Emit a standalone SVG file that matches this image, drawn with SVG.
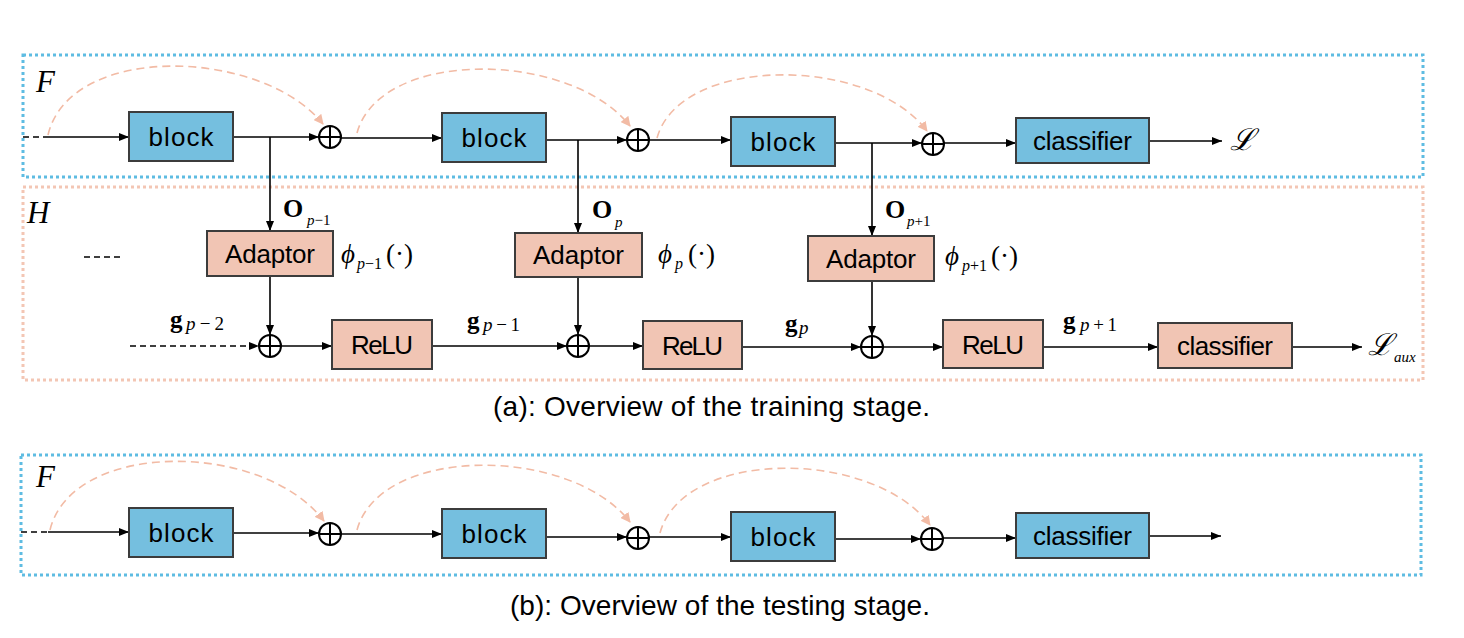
<svg xmlns="http://www.w3.org/2000/svg" width="1464" height="638" viewBox="0 0 1464 638">
<defs>
<style>
.frameF{fill:none;stroke:#5EBCE2;stroke-width:3;stroke-dasharray:3 3}
.frameH{fill:none;stroke:#F3C6B4;stroke-width:3;stroke-dasharray:3 3}
.blue{fill:#75BFDF;stroke:#3C3C3C;stroke-width:2}
.pink{fill:#F1C5B4;stroke:#3C3C3C;stroke-width:2}
.lbl{font-family:"Liberation Sans",Arial,sans-serif;font-size:26px;fill:#000;text-anchor:middle}
.cap{font-family:"Liberation Sans",Arial,sans-serif;font-size:28px;fill:#000}
.m{font-family:"Liberation Serif","DejaVu Serif",serif;fill:#000}
.it{font-style:italic}
.bd{font-weight:bold}
.ln{fill:none;stroke:#000;stroke-width:1.6}
.dash{fill:none;stroke:#000;stroke-width:1.6;stroke-dasharray:6 4}
.arc{fill:none;stroke:#F2BBA5;stroke-width:1.6;stroke-dasharray:8 5}
.op{fill:#fff;stroke:#000;stroke-width:2}
</style>
<marker id="ah" viewBox="0 0 10 8" refX="10" refY="4" markerWidth="10" markerHeight="8" markerUnits="userSpaceOnUse" orient="auto">
<path d="M0,0 L10,4 L0,8 z" fill="#000"/>
</marker>
<marker id="ahs" viewBox="0 0 10 10" refX="9" refY="5" markerWidth="10" markerHeight="10" markerUnits="userSpaceOnUse" orient="auto">
<path d="M0,0 L10,5 L0,10 z" fill="#F2BBA5"/>
</marker>
<g id="plus">
<circle cx="0" cy="0" r="11" class="op"/>
<path d="M-11,0 H11 M0,-11 V11" stroke="#000" stroke-width="2"/>
</g>
</defs>
<rect width="1464" height="638" fill="#fff"/>

<!-- frames -->
<g id="frames">
<rect class="frameF" x="23" y="55" width="1400" height="122"/>
<rect class="frameH" x="23" y="187" width="1400" height="193"/>
<rect class="frameF" x="21" y="455" width="1400" height="120"/>
<text class="m it" x="36" y="92" font-size="31">F</text>
<text class="m it" x="27" y="223" font-size="31">H</text>
<text class="m it" x="36" y="487" font-size="31">F</text>
</g>

<!-- connectors -->
<g id="connectors">
<!-- (a) main row -->
<line class="dash" x1="23" y1="137" x2="48" y2="137"/>
<line class="ln" x1="48" y1="137" x2="129" y2="137" marker-end="url(#ah)"/>
<line class="ln" x1="233" y1="137" x2="319" y2="137" marker-end="url(#ah)"/>
<line class="ln" x1="341" y1="138" x2="442" y2="138" marker-end="url(#ah)"/>
<line class="ln" x1="546" y1="140" x2="627" y2="140" marker-end="url(#ah)"/>
<line class="ln" x1="649" y1="140" x2="731" y2="140" marker-end="url(#ah)"/>
<line class="ln" x1="835" y1="143" x2="922" y2="143" marker-end="url(#ah)"/>
<line class="ln" x1="944" y1="143" x2="1016" y2="143" marker-end="url(#ah)"/>
<line class="ln" x1="1149" y1="141" x2="1222" y2="141" marker-end="url(#ah)"/>
<!-- skip arcs (a) -->
<path class="arc" d="M48,135 C70,42 262,48 323,124" marker-end="url(#ahs)"/>
<path class="arc" d="M357,133 C380,48 570,50 630,126" marker-end="url(#ahs)"/>
<path class="arc" d="M657,138 C680,55 870,55 927,131" marker-end="url(#ahs)"/>
<!-- verticals -->
<line class="ln" x1="270" y1="137" x2="270" y2="231" marker-end="url(#ah)"/>
<line class="ln" x1="578" y1="140" x2="578" y2="233" marker-end="url(#ah)"/>
<line class="ln" x1="872" y1="143" x2="872" y2="236" marker-end="url(#ah)"/>
<line class="ln" x1="270" y1="276" x2="270" y2="335" marker-end="url(#ah)"/>
<line class="ln" x1="578" y1="277" x2="578" y2="335" marker-end="url(#ah)"/>
<line class="ln" x1="872" y1="281" x2="872" y2="336" marker-end="url(#ah)"/>
<!-- (a) lower row -->
<line class="dash" x1="84" y1="257" x2="123" y2="257"/>
<line class="dash" x1="130" y1="346" x2="259" y2="346" marker-end="url(#ah)"/>
<line class="ln" x1="281" y1="346" x2="332" y2="346" marker-end="url(#ah)"/>
<line class="ln" x1="432" y1="346" x2="567" y2="346" marker-end="url(#ah)"/>
<line class="ln" x1="589" y1="346" x2="643" y2="346" marker-end="url(#ah)"/>
<line class="ln" x1="742" y1="347" x2="861" y2="347" marker-end="url(#ah)"/>
<line class="ln" x1="883" y1="347" x2="943" y2="347" marker-end="url(#ah)"/>
<line class="ln" x1="1043" y1="347" x2="1158" y2="347" marker-end="url(#ah)"/>
<line class="ln" x1="1292" y1="347" x2="1362" y2="347" marker-end="url(#ah)"/>
<!-- (b) row -->
<line class="dash" x1="21" y1="532" x2="48" y2="532"/>
<line class="ln" x1="48" y1="532" x2="129" y2="532" marker-end="url(#ah)"/>
<line class="ln" x1="233" y1="533" x2="319" y2="533" marker-end="url(#ah)"/>
<line class="ln" x1="341" y1="534" x2="442" y2="534" marker-end="url(#ah)"/>
<line class="ln" x1="546" y1="537" x2="627" y2="537" marker-end="url(#ah)"/>
<line class="ln" x1="649" y1="537" x2="731" y2="537" marker-end="url(#ah)"/>
<line class="ln" x1="835" y1="539" x2="921" y2="539" marker-end="url(#ah)"/>
<line class="ln" x1="943" y1="538" x2="1016" y2="538" marker-end="url(#ah)"/>
<line class="ln" x1="1149" y1="536" x2="1221" y2="536" marker-end="url(#ah)"/>
<path class="arc" d="M50,530 C72,440 262,440 324,521" marker-end="url(#ahs)"/>
<path class="arc" d="M357,530 C380,445 570,445 630,522" marker-end="url(#ahs)"/>
<path class="arc" d="M660,533 C683,448 872,448 930,525" marker-end="url(#ahs)"/>
</g>

<!-- sum nodes -->
<g id="sum-a1"><use href="#plus" x="330" y="137"/></g>
<g id="sum-a2"><use href="#plus" x="638" y="140"/></g>
<g id="sum-a3"><use href="#plus" x="933" y="144"/></g>
<g id="sum-h1"><use href="#plus" x="270" y="346"/></g>
<g id="sum-h2"><use href="#plus" x="578" y="346"/></g>
<g id="sum-h3"><use href="#plus" x="872" y="347"/></g>
<g id="sum-b1"><use href="#plus" x="330" y="534"/></g>
<g id="sum-b2"><use href="#plus" x="638" y="538"/></g>
<g id="sum-b3"><use href="#plus" x="932" y="539"/></g>

<!-- (a) F nodes -->
<g id="block-a1"><rect class="blue" x="129" y="112" width="104" height="49"/><text class="lbl" x="181" y="146" textLength="65">block</text></g>
<g id="block-a2"><rect class="blue" x="442" y="113" width="104" height="49"/><text class="lbl" x="494" y="147" textLength="65">block</text></g>
<g id="block-a3"><rect class="blue" x="731" y="117" width="104" height="49"/><text class="lbl" x="783" y="151" textLength="65">block</text></g>
<g id="classifier-a"><rect class="blue" x="1016" y="118" width="133" height="45"/><text class="lbl" x="1082.5" y="150" textLength="99">classifier</text></g>
<g id="loss"><text class="m it" x="1230" y="150" font-size="30" font-family="DejaVu Serif,serif">ℒ</text></g>

<!-- (a) H nodes -->
<g id="adaptor-1"><rect class="pink" x="207" y="231" width="126" height="45"/><text class="lbl" x="270" y="263" textLength="90">Adaptor</text></g>
<g id="adaptor-2"><rect class="pink" x="515" y="233" width="127" height="44"/><text class="lbl" x="578.5" y="264" textLength="91">Adaptor</text></g>
<g id="adaptor-3"><rect class="pink" x="808" y="236" width="126" height="45"/><text class="lbl" x="871" y="268" textLength="90">Adaptor</text></g>
<g id="relu-1"><rect class="pink" x="332" y="320" width="100" height="49"/><text class="lbl" x="382" y="354" textLength="62">ReLU</text></g>
<g id="relu-2"><rect class="pink" x="643" y="321" width="99" height="48"/><text class="lbl" x="692.5" y="355" textLength="61">ReLU</text></g>
<g id="relu-3"><rect class="pink" x="943" y="320" width="100" height="48"/><text class="lbl" x="993" y="354" textLength="62">ReLU</text></g>
<g id="classifier-h"><rect class="pink" x="1158" y="323" width="134" height="45"/><text class="lbl" x="1225" y="355" textLength="96">classifier</text></g>
<g id="loss-aux"><text class="m it" x="1368" y="355" font-size="30" font-family="DejaVu Serif,serif">ℒ</text><text class="m it" x="1394" y="362" font-size="15">aux</text></g>

<!-- labels -->
<g id="labels">
<text class="m bd" x="283" y="217" font-size="26">O</text><text class="m" x="307" y="225" font-size="15"><tspan class="it">p</tspan>−1</text>
<text class="m bd" x="592" y="218" font-size="26">O</text><text class="m it" x="615" y="227" font-size="15">p</text>
<text class="m bd" x="885" y="218" font-size="26">O</text><text class="m" x="907" y="226" font-size="15"><tspan class="it">p</tspan>+1</text>

<text class="m it" x="341" y="263" font-size="27">ϕ</text><text class="m" x="357" y="269" font-size="16"><tspan class="it">p</tspan>−1</text><text class="m" x="386" y="263" font-size="27">(·)</text>
<text class="m it" x="658" y="263" font-size="27">ϕ</text><text class="m it" x="675" y="269" font-size="16">p</text><text class="m" x="688" y="263" font-size="27">(·)</text>
<text class="m it" x="945" y="265" font-size="27">ϕ</text><text class="m" x="962" y="271" font-size="16"><tspan class="it">p</tspan>+1</text><text class="m" x="991" y="265" font-size="27">(·)</text>

<text class="m bd" x="170" y="328" font-size="25">g</text><text class="m" x="186" y="330" font-size="19" textLength="38"><tspan class="it">p</tspan>−2</text>
<text class="m bd" x="467" y="329" font-size="25">g</text><text class="m" x="483" y="331" font-size="19" textLength="37"><tspan class="it">p</tspan>−1</text>
<text class="m bd" x="785" y="332" font-size="25">g</text><text class="m it" x="799" y="334" font-size="19">p</text>
<text class="m bd" x="1063" y="329" font-size="25">g</text><text class="m" x="1080" y="331" font-size="19" textLength="37"><tspan class="it">p</tspan>+1</text>
</g>

<!-- (b) nodes -->
<g id="block-b1"><rect class="blue" x="129" y="508" width="104" height="49"/><text class="lbl" x="181" y="542" textLength="65">block</text></g>
<g id="block-b2"><rect class="blue" x="442" y="509" width="104" height="49"/><text class="lbl" x="494" y="543" textLength="65">block</text></g>
<g id="block-b3"><rect class="blue" x="731" y="512" width="104" height="49"/><text class="lbl" x="783" y="546" textLength="65">block</text></g>
<g id="classifier-b"><rect class="blue" x="1016" y="513" width="133" height="45"/><text class="lbl" x="1082.5" y="545" textLength="99">classifier</text></g>

<!-- captions -->
<g id="captions">
<text class="cap" x="493" y="416" textLength="437">(a): Overview of the training stage.</text>
<text class="cap" x="510" y="615" textLength="420">(b): Overview of the testing stage.</text>
</g>
</svg>
